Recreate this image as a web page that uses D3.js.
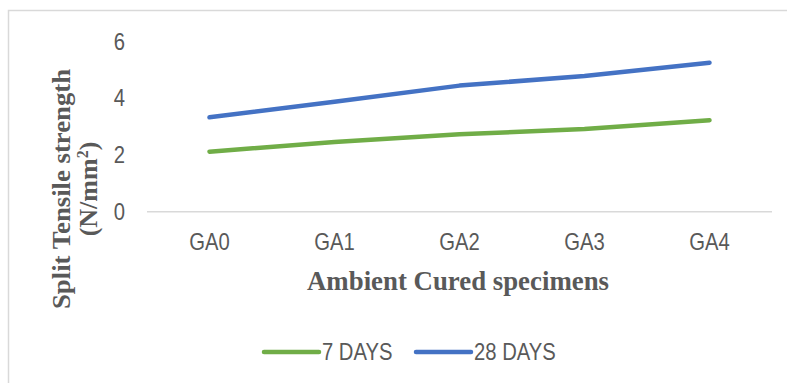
<!DOCTYPE html>
<html>
<head>
<meta charset="utf-8">
<script src="https://cdn.jsdelivr.net/npm/d3@7"></script>
<style>
  body { margin: 0; background: #fff; }
  .tick-label { font-family: 'Liberation Sans', sans-serif; font-size: 23px; fill: #595959; }
  .axis-title { font-family: 'Liberation Serif', serif; font-weight: bold; fill: #595959; }
</style>
</head>
<body>
<div id="chart"></div>
<script>
(function() {

    // Data
    var categories = ["GA0", "GA1", "GA2", "GA3", "GA4"];
    var days7 = [2.12, 2.46, 2.73, 2.92, 3.23];
    var days28 = [3.33, 3.88, 4.45, 4.79, 5.26];
    var yTicks = [0, 2, 4, 6];
    var seriesNames = ["7 DAYS", "28 DAYS"];
    var seriesColors = ["#70AD47", "#4472C4"];

    var width = 787, height = 383;
    var plot = { left: 147, right: 772, top: 41.7, bottom: 211.7 };
    // Calibri is narrower than Liberation Sans, squeeze it a bit
    var squeeze = 0.88;

    var svg = d3.select("#chart")
        .append("svg")
        .attr("width", width)
        .attr("height", height);

    // Chart border
    svg.append("rect")
        .attr("x", 8.5).attr("y", 10.5)
        .attr("width", 800).attr("height", 400)
        .attr("fill", "none")
        .attr("stroke", "#d9d9d9")
        .attr("stroke-width", 1.5);

    var x = d3.scaleBand()
        .domain(categories)
        .range([plot.left, plot.right]);

    var y = d3.scaleLinear()
        .domain([0, 6])
        .range([plot.bottom, plot.top]);

    // Baseline
    svg.append("line")
        .attr("x1", plot.left).attr("x2", plot.right)
        .attr("y1", y(0)).attr("y2", y(0))
        .attr("stroke", "#d9d9d9")
        .attr("stroke-width", 1.5);

    // Y tick labels
    svg.selectAll(".ylab")
        .data(yTicks)
        .enter().append("text")
        .attr("class", "tick-label")
        .attr("transform", function(d) {
            return "translate(125," + y(d) + ") scale(" + squeeze + ",1)";
        })
        .attr("dy", "0.35em")
        .attr("text-anchor", "end")
        .text(function(d) { return d; });

    // X tick labels
    svg.selectAll(".xlab")
        .data(categories)
        .enter().append("text")
        .attr("class", "tick-label")
        .attr("transform", function(d) {
            return "translate(" + (x(d) + x.bandwidth() / 2) + ",250) scale(" + squeeze + ",1)";
        })
        .attr("text-anchor", "middle")
        .text(function(d) { return d; });

    // Lines
    var line = d3.line()
        .x(function(d, i) { return x(categories[i]) + x.bandwidth() / 2; })
        .y(function(d) { return y(d); });

    [days7, days28].forEach(function(s, i) {
        svg.append("path")
            .datum(s)
            .attr("d", line)
            .attr("fill", "none")
            .attr("stroke", seriesColors[i])
            .attr("stroke-width", 4.5)
            .attr("stroke-linecap", "round")
            .attr("stroke-linejoin", "round");
    });

    // X axis title
    svg.append("text")
        .attr("class", "axis-title")
        .attr("x", 458)
        .attr("y", 290)
        .attr("text-anchor", "middle")
        .attr("textLength", 302)
        .attr("lengthAdjust", "spacingAndGlyphs")
        .style("font-size", "27px")
        .text("Ambient Cured specimens");

    // Y axis title (two lines)
    var yt = svg.append("g")
        .attr("transform", "translate(70,189) rotate(-90)");
    yt.append("text")
        .attr("class", "axis-title")
        .attr("text-anchor", "middle")
        .attr("textLength", 240)
        .attr("lengthAdjust", "spacingAndGlyphs")
        .style("font-size", "26px")
        .text("Split Tensile strength");
    var t2 = yt.append("text")
        .attr("class", "axis-title")
        .attr("y", 27)
        .attr("text-anchor", "middle")
        .style("font-size", "26px")
        .text("(N/mm");
    t2.append("tspan")
        .attr("dy", -9)
        .style("font-size", "16px")
        .text("2");
    t2.append("tspan")
        .attr("dy", 9)
        .text(")");

    // Legend
    var legendX = [264, 416];
    seriesNames.forEach(function(name, i) {
        var g = svg.append("g")
            .attr("transform", "translate(" + legendX[i] + ",352)");
        g.append("line")
            .attr("x1", 0).attr("x2", 55)
            .attr("y1", 0).attr("y2", 0)
            .attr("stroke", seriesColors[i])
            .attr("stroke-width", 4.5)
            .attr("stroke-linecap", "round");
        g.append("text")
            .attr("class", "tick-label")
            .attr("transform", "translate(58,0) scale(" + squeeze + ",1)")
            .attr("dy", "0.35em")
            .text(name);
    });
}());
</script>
</body>
</html>
